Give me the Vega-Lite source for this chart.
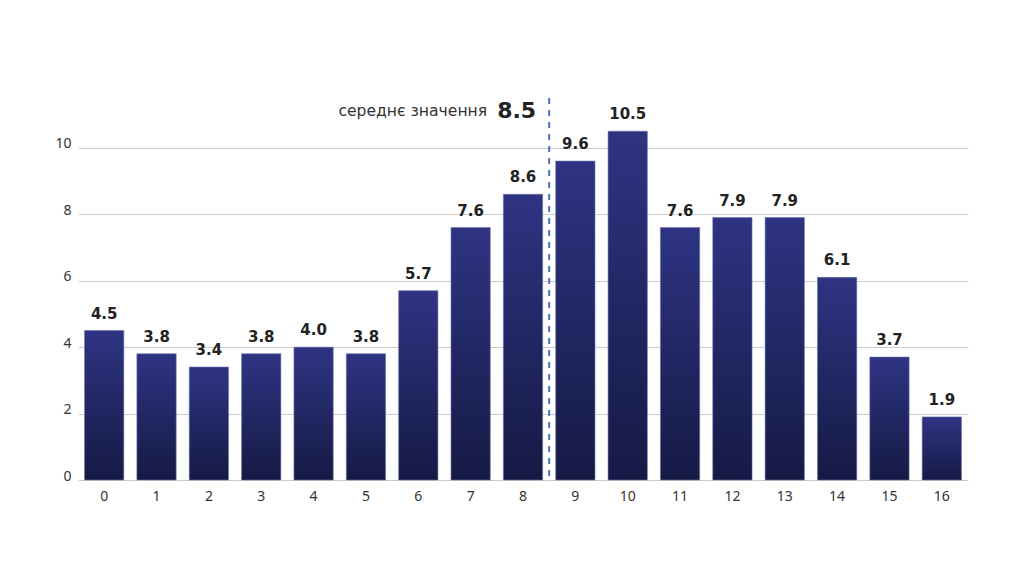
{
  "$schema": "https://vega.github.io/schema/vega-lite/v6.json",
  "autosize": {"type": "none"},
  "padding": {"left": 78, "top": 98, "right": 56, "bottom": 96},
  "width": 890,
  "height": 382,
  "background": "white",
  "config": {
    "view": {"stroke": null},
    "font": "DejaVu Sans",
    "axis": {"labelFont": "Noto Sans", "labelColor": "#333333", "labelFontSize": 14}
  },
  "datasets": {
    "bars": [
      {"k": "0", "v": 4.5}, {"k": "1", "v": 3.8}, {"k": "2", "v": 3.4}, {"k": "3", "v": 3.8},
      {"k": "4", "v": 4.0}, {"k": "5", "v": 3.8}, {"k": "6", "v": 5.7}, {"k": "7", "v": 7.6},
      {"k": "8", "v": 8.6}, {"k": "9", "v": 9.6}, {"k": "10", "v": 10.5}, {"k": "11", "v": 7.6},
      {"k": "12", "v": 7.9}, {"k": "13", "v": 7.9}, {"k": "14", "v": 6.1}, {"k": "15", "v": 3.7},
      {"k": "16", "v": 1.9}
    ],
    "mean": [{"pos": 8.5, "mean": 8.5, "label": "середнє значення", "ly": 11.1}]
  },
  "layer": [
    {
      "data": {"name": "bars"},
      "layer": [
        {
          "mark": {
            "type": "bar",
            "color": {
              "gradient": "linear", "x1": 0, "y1": 0, "x2": 0, "y2": 1,
              "stops": [{"offset": 0, "color": "#2e3483"}, {"offset": 1, "color": "#151a44"}]
            },
            "stroke": "#6a6fa8", "strokeWidth": 0.6
          },
          "encoding": {
            "x": {"field": "k", "type": "ordinal", "sort": null,
                  "scale": {"paddingInner": 0.25, "paddingOuter": 0.125},
                  "axis": {"title": null, "labelAngle": 0, "ticks": false, "domain": false, "labelPadding": 9}},
            "y": {"field": "v", "type": "quantitative",
                  "scale": {"domain": [0, 11.5], "nice": false},
                  "axis": {"title": null, "values": [0, 2, 4, 6, 8, 10], "ticks": false, "domain": false,
                           "gridColor": "#cccccc", "gridWidth": 1, "labelBaseline": "alphabetic", "labelPadding": 7}}
          }
        },
        {
          "mark": {"type": "text", "baseline": "alphabetic", "dy": -12, "fontSize": 15, "fontWeight": "bold", "color": "#222222"},
          "encoding": {
            "x": {"field": "k", "type": "ordinal", "sort": null},
            "y": {"field": "v", "type": "quantitative"},
            "text": {"field": "v", "type": "quantitative", "format": ".1f"}
          }
        }
      ]
    },
    {
      "data": {"name": "mean"},
      "layer": [
        {
          "mark": {"type": "rule", "color": "#4a72c0", "strokeWidth": 2, "strokeDash": [6, 6]},
          "encoding": {
            "x": {"field": "pos", "type": "quantitative", "scale": {"domain": [-0.5, 16.5], "nice": false, "zero": false}, "axis": null}
          }
        },
        {
          "mark": {"type": "text", "align": "right", "baseline": "middle", "dx": -13, "fontSize": 22, "fontWeight": "bold", "color": "#222222"},
          "encoding": {
            "x": {"field": "pos", "type": "quantitative", "scale": {"domain": [-0.5, 16.5], "nice": false, "zero": false}, "axis": null},
            "y": {"field": "ly", "type": "quantitative"},
            "text": {"field": "mean", "type": "quantitative", "format": ".1f"}
          }
        },
        {
          "mark": {"type": "text", "align": "right", "baseline": "middle", "dx": -62, "fontSize": 15.6, "color": "#333333"},
          "encoding": {
            "x": {"field": "pos", "type": "quantitative", "scale": {"domain": [-0.5, 16.5], "nice": false, "zero": false}, "axis": null},
            "y": {"field": "ly", "type": "quantitative"},
            "text": {"field": "label"}
          }
        }
      ]
    }
  ],
  "resolve": {"scale": {"x": "independent"}}
}
